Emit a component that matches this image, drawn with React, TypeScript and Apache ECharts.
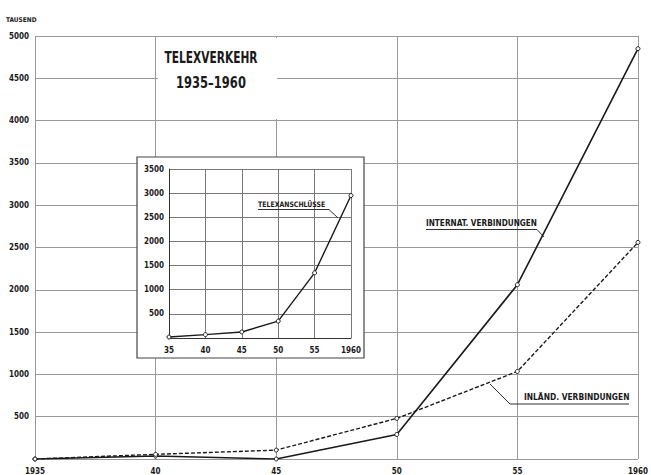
import React, { useEffect, useRef } from "react";
import * as echarts from "echarts";

const years = [1935, 1940, 1945, 1950, 1955, 1960];
const internat = [0, 35, 0, 290, 2060, 4850];
const inland = [0, 55, 105, 480, 1035, 2560];
const telexAnschluesse = [20, 70, 125, 350, 1350, 2950];

const mainYTicks = { min: 0, max: 5000, interval: 500 };
const insetYTicks = { min: 0, max: 3500, interval: 500 };
const xTicks = { min: 1935, max: 1960, interval: 5 };

const FONT2 = "'DejaVu Sans Condensed', 'Liberation Sans Narrow', sans-serif";
const GRID_COLOR = "#999999";
const INK = "#1a1a1a";

export default function App() {
  const ref = useRef<HTMLDivElement>(null);
  useEffect(() => {
    if (!ref.current) return;
    const chart = echarts.init(ref.current, null, { renderer: "svg" });
    const mainLabel = {
      fontFamily: FONT2,
      fontWeight: "bold" as const,
      fontSize: 8,
      color: INK,
    };
    const annot = (text: string, x: number, y: number, size: number, sx: number) => ({
      type: "text",
      z: 20,
      x,
      y,
      scaleX: sx,
      style: {
        text,
        fontFamily: FONT2,
        fontWeight: "bold",
        fontSize: size,
        fill: INK,
        align: "left",
        verticalAlign: "middle",
      },
    });
    chart.setOption({
      animation: false,
      backgroundColor: "#ffffff",
      grid: [
        { left: 35, right: 9, top: 36, bottom: 16 },
        { left: 169, right: 300, top: 169, bottom: 137 },
      ],
      xAxis: [
        {
          gridIndex: 0,
          type: "value",
          ...xTicks,
          z: 0,
          axisLine: { show: false },
          axisTick: { show: false },
          splitLine: { show: true, lineStyle: { color: GRID_COLOR, width: 1 } },
          axisLabel: {
            ...mainLabel,
            margin: 8,
            formatter: (v: number) =>
              v === 1935 || v === 1960 ? String(v) : String(v).slice(2),
          },
        },
        {
          gridIndex: 1,
          type: "value",
          ...xTicks,
          z: 10,
          axisLine: { show: true, lineStyle: { color: "#333", width: 1 } },
          axisTick: { show: false },
          splitLine: { show: true, lineStyle: { color: "#777", width: 1 } },
          axisLabel: {
            ...mainLabel,
            margin: 8,
            formatter: (v: number) => (v === 1960 ? "1960" : String(v).slice(2)),
          },
        },
      ],
      yAxis: [
        {
          gridIndex: 0,
          type: "value",
          ...mainYTicks,
          z: 0,
          axisLine: { show: false },
          axisTick: { show: false },
          splitLine: { show: true, lineStyle: { color: GRID_COLOR, width: 1 } },
          axisLabel: {
            ...mainLabel,
            margin: 6,
            formatter: (v: number) => (v === 0 ? "" : String(v)),
          },
        },
        {
          gridIndex: 1,
          type: "value",
          ...insetYTicks,
          z: 10,
          axisLine: { show: true, lineStyle: { color: "#333", width: 1 } },
          axisTick: { show: false },
          splitLine: { show: true, lineStyle: { color: "#777", width: 1 } },
          axisLabel: {
            ...mainLabel,
            margin: 5,
            formatter: (v: number) => (v === 0 ? "" : String(v)),
          },
        },
      ],
      series: [
        {
          name: "INTERNAT. VERBINDUNGEN",
          type: "line",
          xAxisIndex: 0,
          yAxisIndex: 0,
          data: years.map((y, i) => [y, internat[i]]),
          symbol: "circle",
          symbolSize: 4,
          z: 3,
          lineStyle: { color: INK, width: 1.6, type: "solid" },
          itemStyle: { color: "#fff", borderColor: INK, borderWidth: 1 },
        },
        {
          name: "INLÄND. VERBINDUNGEN",
          type: "line",
          xAxisIndex: 0,
          yAxisIndex: 0,
          data: years.map((y, i) => [y, inland[i]]),
          symbol: "circle",
          symbolSize: 4,
          z: 3,
          lineStyle: { color: INK, width: 1.4, type: [4, 2] },
          itemStyle: { color: "#fff", borderColor: INK, borderWidth: 1 },
        },
        {
          name: "TELEXANSCHLÜSSE",
          type: "line",
          xAxisIndex: 1,
          yAxisIndex: 1,
          data: years.map((y, i) => [y, telexAnschluesse[i]]),
          symbol: "circle",
          symbolSize: 4,
          z: 12,
          lineStyle: { color: INK, width: 1.4, type: "solid" },
          itemStyle: { color: "#fff", borderColor: INK, borderWidth: 1 },
        },
      ],
      graphic: [
        {
          type: "rect",
          z: 5,
          shape: { x: 158, y: 38, width: 119, height: 81 },
          style: { fill: "#fff" },
        },
        {
          type: "text",
          z: 20,
          x: 211,
          y: 57,
          scaleX: 0.74,
          style: {
            text: "TELEXVERKEHR",
            fontFamily: FONT2,
            fontWeight: "bold",
            fontSize: 16,
            fill: INK,
            align: "center",
            verticalAlign: "middle",
          },
        },
        {
          type: "text",
          z: 20,
          x: 211,
          y: 82,
          scaleX: 0.8,
          style: {
            text: "1935–1960",
            fontFamily: FONT2,
            fontWeight: "bold",
            fontSize: 16,
            fill: INK,
            align: "center",
            verticalAlign: "middle",
          },
        },
        {
          type: "rect",
          z: 5,
          shape: { x: 137, y: 157, width: 227, height: 201 },
          style: { fill: "#fff", stroke: "#444", lineWidth: 1.2 },
        },
        annot("TAUSEND", 6, 20, 6.5, 1),
        annot("TELEXANSCHLÜSSE", 258, 204, 7.5, 0.92),
        {
          type: "polyline",
          z: 20,
          shape: { points: [[258, 209.5], [329, 209.5], [338, 218]] },
          style: { stroke: INK, lineWidth: 0.9, fill: "none" },
        },
        annot("INTERNAT. VERBINDUNGEN", 426, 223, 9.5, 0.86),
        {
          type: "polyline",
          z: 20,
          shape: { points: [[426, 229.5], [537, 229.5], [544, 237]] },
          style: { stroke: INK, lineWidth: 0.9, fill: "none" },
        },
        annot("INLÄND. VERBINDUNGEN", 524, 397, 9.5, 0.88),
        {
          type: "polyline",
          z: 20,
          shape: { points: [[490, 384], [510, 404], [629, 404]] },
          style: { stroke: INK, lineWidth: 0.9, fill: "none" },
        },
      ],
    });
    return () => chart.dispose();
  }, []);
  return (
    <div
      ref={ref}
      style={{ position: "fixed", left: 0, top: 0, width: 651, height: 475, background: "#fff" }}
    />
  );
}
